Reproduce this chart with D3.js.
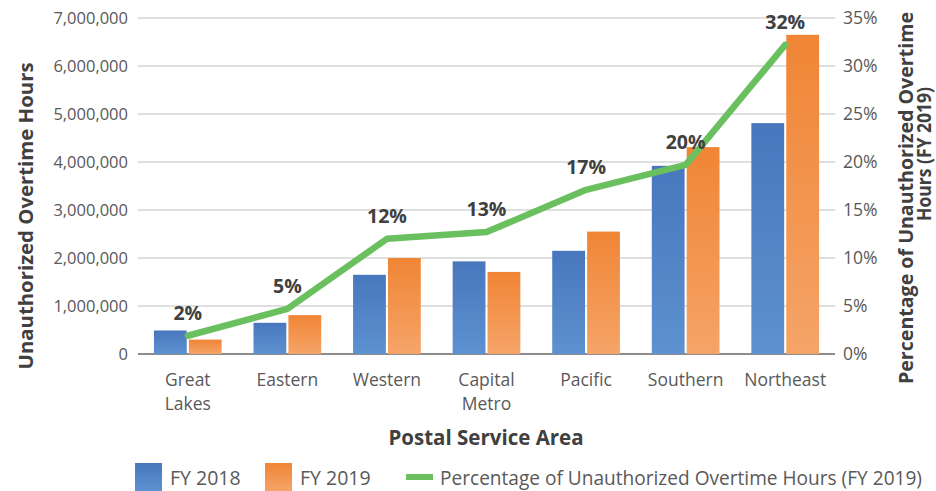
<!DOCTYPE html>
<html><head><meta charset="utf-8">
<script src="https://cdn.jsdelivr.net/npm/d3@7"></script>
<style>body{margin:0;background:#fff}svg{display:block}text{font-family:"Open Sans",sans-serif}</style>
</head><body><svg id="c" width="936" height="491"></svg>
<script>
const categories = [["Great","Lakes"],["Eastern"],["Western"],["Capital","Metro"],["Pacific"],["Southern"],["Northeast"]];
const fy2018 = [490000, 650000, 1650000, 1930000, 2150000, 3920000, 4810000];
const fy2019 = [300000, 810000, 2000000, 1710000, 2550000, 4310000, 6650000];
const pct2019 = [1.9, 4.7, 12.0, 12.7, 17.1, 19.7, 32.2];
const pctLabels = ["2%","5%","12%","13%","17%","20%","32%"];
const leftTicks = [0,1000000,2000000,3000000,4000000,5000000,6000000,7000000];
const rightTicks = [0,5,10,15,20,25,30,35];

const svg = d3.select("#c");
const L=138, R=835, T=18, B=354;
const x = d3.scaleBand().domain(d3.range(categories.length)).range([L,R]).paddingInner(0.32).paddingOuter(0.16);
const y = d3.scaleLinear().domain([0,7000000]).range([B,T]);
const y2 = d3.scaleLinear().domain([0,35]).range([B,T]);
const xs = d3.scaleBand().domain([0,1]).range([0,x.bandwidth()]).paddingInner(0.06);

const defs = svg.append("defs");
function grad(id,c1,c2){const g=defs.append("linearGradient").attr("id",id).attr("x1",0).attr("x2",0).attr("y1",0).attr("y2",1);
 g.append("stop").attr("offset","0%").attr("stop-color",c1);g.append("stop").attr("offset","100%").attr("stop-color",c2);}
grad("gb","#4877bd","#5d91d0");
grad("go","#f08535","#f5a468");

// grid
svg.append("g").selectAll("line").data(leftTicks).join("line")
 .attr("x1",L).attr("x2",R).attr("y1",d=>y(d)).attr("y2",d=>y(d))
 .attr("stroke",d=>d===0?"#8c8c8c":"#bfbfbf").attr("stroke-width",d=>d===0?2:1.2);

// axes
const la = svg.append("g").attr("transform",`translate(${L},0)`)
 .call(d3.axisLeft(y).tickValues(leftTicks).tickFormat(d3.format(",")).tickSize(0).tickPadding(10));
la.select(".domain").remove();
la.selectAll("text").attr("font-size",16.5).attr("fill","#595959").attr("font-family","Open Sans");
const ra = svg.append("g").attr("transform",`translate(${R},0)`)
 .call(d3.axisRight(y2).tickValues(rightTicks).tickFormat(d=>d+"%").tickSize(0).tickPadding(8));
ra.select(".domain").remove();
ra.selectAll("text").attr("font-size",17.5).attr("fill","#595959").attr("font-family","Open Sans");

// bars
const g = svg.append("g");
categories.forEach((c,i)=>{
  [fy2018[i],fy2019[i]].forEach((v,j)=>{
    g.append("rect").attr("x",x(i)+xs(j)).attr("width",xs.bandwidth())
     .attr("y",y(v)).attr("height",y(0)-y(v)).attr("fill",j===0?"url(#gb)":"url(#go)");
  });
});
// line
const cx = i=>x(i)+x.bandwidth()/2;
svg.append("path").datum(pct2019).attr("fill","none").attr("stroke","#6abf5e").attr("stroke-width",6.5)
 .attr("stroke-linejoin","round").attr("stroke-linecap","round")
 .attr("d",d3.line().x((d,i)=>cx(i)).y(d=>y2(d)));
// labels
svg.append("g").selectAll("text").data(pct2019).join("text")
 .attr("x",(d,i)=>cx(i)).attr("y",d=>y2(d)-16).attr("text-anchor","middle")
 .attr("font-size",19.5).attr("font-weight","bold").attr("fill","#404040").text((d,i)=>pctLabels[i]);

// x labels
const xl = svg.append("g");
categories.forEach((c,i)=>{
  c.forEach((t,k)=>xl.append("text").attr("x",cx(i)).attr("y",386+k*24).attr("text-anchor","middle")
   .attr("font-size",17.5).attr("fill","#595959").text(t));
});

// titles
svg.append("text").attr("x",486).attr("y",445).attr("text-anchor","middle").attr("font-size",20.5)
 .attr("font-weight","bold").attr("fill","#404040").text("Postal Service Area");
svg.append("text").attr("transform","translate(33,216) rotate(-90)").attr("text-anchor","middle")
 .attr("font-size",20).attr("font-weight","bold").attr("fill","#404040")
 .attr("textLength",307).attr("lengthAdjust","spacingAndGlyphs").text("Unauthorized Overtime Hours");
svg.append("text").attr("transform","translate(913,198) rotate(-90)").attr("text-anchor","middle")
 .attr("font-size",19).attr("font-weight","bold").attr("fill","#404040")
 .attr("textLength",372).attr("lengthAdjust","spacingAndGlyphs").text("Percentage of Unauthorized Overtime");
svg.append("text").attr("transform","translate(931,154) rotate(-90)").attr("text-anchor","middle")
 .attr("font-size",19).attr("font-weight","bold").attr("fill","#404040")
 .attr("textLength",134).attr("lengthAdjust","spacingAndGlyphs").text("Hours (FY 2019)");

// legend
const lg = svg.append("g");
lg.append("rect").attr("x",135).attr("y",463).attr("width",27).attr("height",28).attr("fill","url(#gb)");
lg.append("text").attr("x",170).attr("y",485).attr("font-size",19.5).attr("fill","#595959").text("FY 2018");
lg.append("rect").attr("x",265).attr("y",463).attr("width",27).attr("height",28).attr("fill","url(#go)");
lg.append("text").attr("x",300).attr("y",485).attr("font-size",19.5).attr("fill","#595959").text("FY 2019");
lg.append("line").attr("x1",406).attr("x2",433).attr("y1",477).attr("y2",477).attr("stroke","#6abf5e").attr("stroke-width",6);
lg.append("text").attr("x",440).attr("y",485).attr("font-size",19.5).attr("fill","#595959")
 .attr("textLength",482).attr("lengthAdjust","spacingAndGlyphs").text("Percentage of Unauthorized Overtime Hours (FY 2019)");
</script></body></html>
